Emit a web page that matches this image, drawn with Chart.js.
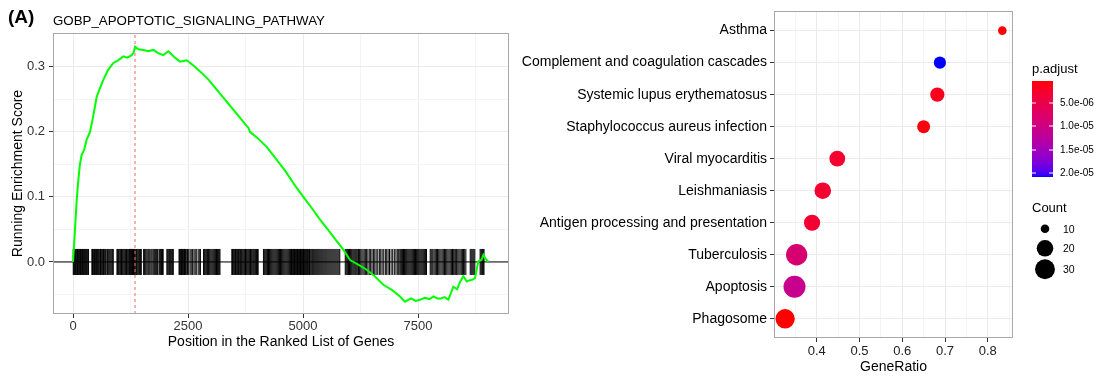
<!DOCTYPE html>
<html><head><meta charset="utf-8">
<script src="https://cdn.jsdelivr.net/npm/chart.js@4.4.0/dist/chart.umd.min.js"></script>
<style>
body{margin:0;background:#fff;font-family:"Liberation Sans",Arial,sans-serif;}
#wrap{position:relative;width:1102px;height:378px;overflow:hidden;background:#fff;}
.t{position:absolute;white-space:nowrap;color:#000;line-height:1;}
canvas{position:absolute;}
</style></head><body>
<div id="wrap">
<canvas id="c1" width="515" height="378" style="left:0;top:0"></canvas>
<canvas id="c2" width="530" height="378" style="left:500px;top:0"></canvas>
<canvas id="cbar" width="21" height="96" style="left:1032px;top:81px"></canvas>
</div>
<script>
// ---------- Left panel data (GSEA running score) ----------
const gseaTitle = 'GOBP_APOPTOTIC_SIGNALING_PATHWAY';
const esX = [0, 43, 80, 116, 150, 189, 240, 297, 370, 441, 515, 590, 659, 760, 877, 980, 1094, 1180, 1275, 1320, 1348, 1420, 1529, 1640, 1746, 1850, 1964, 2072, 2200, 2326, 2471, 2600, 2761, 2950, 3124, 3300, 3486, 3650, 3812, 3848, 4020, 4210, 4430, 4645, 4820, 5007, 5190, 5370, 5550, 5732, 5877, 6022, 6200, 6384, 6560, 6746, 6930, 7109, 7217, 7350, 7450, 7543, 7650, 7750, 7833, 7920, 8000, 8080, 8159, 8268, 8350, 8420, 8485, 8560, 8630, 8690, 8739, 8811, 8880, 8920, 8960, 9029];
const esY = [0, 0.05, 0.095, 0.126, 0.15, 0.165, 0.172, 0.188, 0.2, 0.225, 0.254, 0.268, 0.28, 0.295, 0.306, 0.31, 0.316, 0.314, 0.318, 0.322, 0.331, 0.327, 0.326, 0.324, 0.326, 0.321, 0.318, 0.324, 0.315, 0.308, 0.31, 0.303, 0.293, 0.28, 0.265, 0.25, 0.234, 0.22, 0.206, 0.2, 0.19, 0.177, 0.157, 0.137, 0.118, 0.1, 0.083, 0.065, 0.049, 0.032, 0.019, 0.003, -0.004, -0.012, -0.022, -0.035, -0.043, -0.053, -0.061, -0.056, -0.06, -0.058, -0.055, -0.057, -0.053, -0.056, -0.056, -0.054, -0.058, -0.038, -0.042, -0.03, -0.022, -0.03, -0.028, -0.027, -0.025, 0.001, 0.003, 0.011, 0.006, 0.0];
const hitPositions = [5,18,30,44,57,70,84,97,110,124,137,150,164,178,191,205,218,232,246,260,275,290,305,320,338,
 410,424,438,452,466,480,494,508,522,536,550,566,582,598,614,630,646,662,678,694,710,
 735,752,775,798,820,842,862,875,
 955,970,985,1000,1018,1036,1054,1072,1090,1108,1126,1144,1162,1180,1198,1214,1230,1244,1256,1268,1280,1292,1304,1316,1328,1340,
 1362,1378,1395,1412,1430,1448,1466,1485,
 1535,1552,1570,1590,1612,1635,1655,1675,1698,1720,1745,1768,1790,1812,1835,
 1868,1885,1905,1925,1945,1960,
 2040,2058,2080,2100,2122,2145,2165,2180,
 2305,2318,2331,2344,2357,2370,2383,2396,2410,2423,2436,2449,2462,
 2490,2515,2545,2570,2600,2630,2655,2680,
 2720,2745,2770,
 2838,2855,2872,2890,2908,2926,2944,2962,2980,3000,3020,3040,3060,3080,3100,3120,3140,3160,3180,3195,
 3452,3468,3484,3500,3516,3532,3548,3564,3580,3596,3612,3628,3644,3660,3678,3696,3714,3732,3750,3768,3786,3804,3822,3840,3858,3876,3894,3912,3930,3950,3970,3990,4010,4025,
 4140,4158,4176,4194,4212,4230,4250,4270,4290,4310,4330,4350,4370,4390,4410,4430,4450,4470,4490,4510,4530,4550,4570,4590,4610,4630,4650,4670,4690,4710,
 4725,4738,4751,4764,4777,4790,4803,4816,4829,4842,4855,4868,4881,4894,4907,4920,4933,4946,4959,4972,4985,4998,5011,5024,5037,5050,5065,5080,5095,5110,5125,5140,5152,
 5170,5190,5210,5232,5254,5276,5298,5320,5342,5364,5386,5408,5430,5452,5474,5496,5518,5540,5562,5584,5606,5628,5650,5672,5694,5716,5738,5760,5782,5800,
 5918,5936,5954,5972,5990,6010,6030,6050,6070,6092,6114,6136,6158,6180,6205,6230,6255,6280,6305,6330,6355,6378,
 6410,6440,6470,6500,6530,6560,6590,6625,6660,6690,6720,6755,6790,6820,6850,6880,6915,6950,6985,7020,7050,7080,7105,
 7125,7145,7165,7185,7205,7225,7245,7265,7285,7305,7325,7345,7365,7385,7405,7425,7445,7465,7485,7505,7525,7545,7565,7585,7605,7625,7645,7665,7685,
 7765,7785,7805,7825,7850,7875,7900,7925,7950,7975,8000,8025,8050,8075,8100,8125,8150,8175,8200,8225,8250,8275,8300,8320,8340,
 8365,8390,8415,8440,8465,8490,8515,8540,
 8635,8655,8675,8695,8715,8735,
 8850,8868,8886,8904,8920,8935];
const peakPosition = 1348;
const xMajorTicks = [0, 2500, 5000, 7500];
const xMinorTicks = [1250, 3750, 6250, 8750];
const yMajorTicks = [0, 0.1, 0.2, 0.3];
const yMinorTicks = [-0.05, 0.05, 0.15, 0.25];

// ---------- Right panel data (dot plot) ----------
const categories = ['Asthma', 'Complement and coagulation cascades', 'Systemic lupus erythematosus', 'Staphylococcus aureus infection', 'Viral myocarditis', 'Leishmaniasis', 'Antigen processing and presentation', 'Tuberculosis', 'Apoptosis', 'Phagosome'];
const geneRatio = [0.834, 0.688, 0.682, 0.650, 0.448, 0.414, 0.389, 0.353, 0.348, 0.326];
const counts = [10, 12, 15, 13, 18, 20, 19, 35, 38, 28];
const pAdjust = [5.0e-7, 2.08e-5, 1.6e-6, 8.0e-7, 2.8e-6, 2.9e-6, 3.0e-6, 8.5e-6, 1.1e-5, 3.9e-7];
const ratioMajorTicks = [0.4, 0.5, 0.6, 0.7, 0.8];
const ratioMinorTicks = [0.35, 0.45, 0.55, 0.65, 0.75, 0.85];
const pLegendTicks = [5e-6, 1e-5, 1.5e-5, 2e-5];
const pLegendLabels = ['5.0e-06', '1.0e-05', '1.5e-05', '2.0e-05'];
const countLegend = [10, 20, 30];

// ---------- helpers ----------
const FONT = "'Liberation Sans', Arial, sans-serif";
Chart.defaults.font.family = FONT;
const wrap = document.getElementById('wrap');
function txt(s, x, cy, size, opt) {
  opt = opt || {};
  const d = document.createElement('div');
  d.className = 't';
  d.textContent = s;
  d.style.fontSize = size + 'px';
  if (opt.bold) d.style.fontWeight = 'bold';
  if (opt.color) d.style.color = opt.color;
  d.style.left = x + 'px';
  d.style.top = (cy - (opt.k || 0.4885) * size) + 'px';
  wrap.appendChild(d);
}
function lin(c){c/=255;return c<=0.04045?c/12.92:Math.pow((c+0.055)/1.055,2.4);}
function unlin(c){c=c<=0.0031308?12.92*c:1.055*Math.pow(c,1/2.4)-0.055;return Math.max(0,Math.min(255,Math.round(c*255)));}
const WX=0.95047,WY=1,WZ=1.08883;
function fL(t){return t>0.008856?Math.cbrt(t):7.787*t+16/116;}
function fLi(t){return t>0.206893?t*t*t:(t-16/116)/7.787;}
function toLab(r,g,b){r=lin(r);g=lin(g);b=lin(b);
  const X=(0.4124*r+0.3576*g+0.1805*b)/WX,Y=(0.2126*r+0.7152*g+0.0722*b)/WY,Z=(0.0193*r+0.1192*g+0.9505*b)/WZ;
  const fx=fL(X),fy=fL(Y),fz=fL(Z);return [116*fy-16,500*(fx-fy),200*(fy-fz)];}
function fromLab(L,a,b){const fy=(L+16)/116,fx=fy+a/500,fz=fy-b/200;
  const X=fLi(fx)*WX,Y=fLi(fy)*WY,Z=fLi(fz)*WZ;
  const r=3.2406*X-1.5372*Y-0.4986*Z,g=-0.9689*X+1.8758*Y+0.0415*Z,bb=0.0557*X-0.2040*Y+1.0570*Z;
  return 'rgb('+unlin(r)+','+unlin(g)+','+unlin(bb)+')';}
const LOW = toLab(255,0,0), HIGH = toLab(0,0,255);
const pMin = Math.min(...pAdjust), pMax = Math.max(...pAdjust);
function colorAt(t){t=Math.max(0,Math.min(1,t));return fromLab(LOW[0]+(HIGH[0]-LOW[0])*t,LOW[1]+(HIGH[1]-LOW[1])*t,LOW[2]+(HIGH[2]-LOW[2])*t);}
function colorOf(p){return colorAt((p-pMin)/(pMax-pMin));}
const cMin = Math.min(...counts), cMax = Math.max(...counts);
function radiusOf(c){return 4.3 + 6.7*Math.sqrt(Math.max(0,c-cMin)/(cMax-cMin));}

const panelBorder = {id:'panelBorder', afterDatasetsDraw(chart){
  const {ctx, chartArea:a} = chart; ctx.save(); ctx.strokeStyle='#A8A8A8'; ctx.lineWidth=1;
  ctx.strokeRect(Math.round(a.left)+0.5, Math.round(a.top)+0.5, Math.round(a.right-a.left)-1, Math.round(a.bottom-a.top)-1);
  ctx.restore();}};

// ---------- Left chart ----------
const xMin = -435, xMax = 9478, yMin = -0.08, yMax = 0.352;
const rug = [];
hitPositions.forEach(p => { rug.push({x:p,y:-0.02}); rug.push({x:p,y:0.02}); rug.push({x:p,y:null}); });
const isMaj = (arr, v) => arr.some(m => Math.abs(m - v) < 1e-9);

new Chart(document.getElementById('c1'), {
  type: 'line',
  data: { datasets: [
    {data: esX.map((x,i)=>({x, y: esY[i]})), borderColor:'#00FF00', borderWidth:2, pointRadius:0, tension:0, order:0},
    {data: [{x:peakPosition,y:yMin},{x:peakPosition,y:yMax}], borderColor:'#F06A6A', borderWidth:1, borderDash:[3,3], pointRadius:0, order:1},
    {data: [{x:xMin,y:0},{x:xMax,y:0}], borderColor:'#000', borderWidth:1, pointRadius:0, order:2},
    {data: rug, borderColor:'#000', borderWidth:1, pointRadius:0, spanGaps:false, order:3}
  ]},
  options: {
    responsive:false, animation:false, events:[],
    plugins:{legend:{display:false}, tooltip:{enabled:false}},
    layout:{padding:{left:0, top:33, right:6, bottom:0}},
    scales:{
      x:{type:'linear', min:xMin, max:xMax,
        afterFit(s){s.height=64;},
        afterBuildTicks(s){s.ticks=xMajorTicks.concat(xMinorTicks).sort((a,b)=>a-b).map(v=>({value:v}));},
        ticks:{callback:(v)=> isMaj(xMajorTicks,v)? String(v):'', font:{size:13}, color:'#333', padding:1, maxRotation:0, autoSkip:false},
        grid:{color:(c)=> isMaj(xMajorTicks,c.tick.value)?'#EBEBEB':'#F4F4F4', tickColor:(c)=> isMaj(xMajorTicks,c.tick.value)?'#333':'rgba(0,0,0,0)', tickLength:4, lineWidth:1},
        border:{display:false},
        title:{display:true, text:'Position in the Ranked List of Genes', font:{size:14}, color:'#000', padding:{top:0,bottom:27}}
      },
      y:{type:'linear', min:yMin, max:yMax,
        afterFit(s){s.width=53;},
        afterBuildTicks(s){s.ticks=yMajorTicks.concat(yMinorTicks).sort((a,b)=>a-b).map(v=>({value:v}));},
        ticks:{callback:(v)=> isMaj(yMajorTicks,v)? v.toFixed(1):'', font:{size:13}, color:'#333', padding:4, autoSkip:false},
        grid:{color:(c)=> isMaj(yMajorTicks,c.tick.value)?'#EBEBEB':'#F4F4F4', tickColor:(c)=> isMaj(yMajorTicks,c.tick.value)?'#333':'rgba(0,0,0,0)', tickLength:4, lineWidth:1},
        border:{display:false},
        title:{display:true, text:'Running Enrichment Score', font:{size:14}, color:'#000', padding:{top:10,bottom:0}}
      }
    }
  },
  plugins:[panelBorder]
});

// ---------- Right chart ----------
new Chart(document.getElementById('c2'), {
  type: 'scatter',
  data: { datasets: [{
    data: geneRatio.map((g,i)=>({x:g, y:i})),
    pointRadius: counts.map(radiusOf),
    pointHoverRadius: counts.map(radiusOf),
    pointBackgroundColor: pAdjust.map(colorOf),
    pointBorderWidth: 0
  }]},
  options: {
    responsive:false, animation:false, events:[],
    plugins:{legend:{display:false}, tooltip:{enabled:false}},
    layout:{padding:{left:0, top:5, right:17, bottom:0}},
    scales:{
      x:{type:'linear', min:0.30, max:0.859,
        afterFit(s){s.height=40;},
        afterBuildTicks(s){s.ticks=ratioMajorTicks.concat(ratioMinorTicks).sort((a,b)=>a-b).map(v=>({value:v}));},
        ticks:{callback:(v)=> isMaj(ratioMajorTicks,v)? v.toFixed(1):'', font:{size:13}, color:'#222', padding:2, maxRotation:0, autoSkip:false},
        grid:{color:(c)=> isMaj(ratioMajorTicks,c.tick.value)?'#EBEBEB':'#F4F4F4', tickColor:(c)=> isMaj(ratioMajorTicks,c.tick.value)?'#333':'rgba(0,0,0,0)', tickLength:4, lineWidth:1},
        border:{display:false},
        title:{display:true, text:'GeneRatio', font:{size:14}, color:'#000', padding:{top:0,bottom:2}}
      },
      y:{type:'linear', min:-0.6, max:9.6, reverse:true,
        afterFit(s){s.width=274;},
        afterBuildTicks(s){s.ticks=categories.map((_,i)=>({value:i}));},
        ticks:{callback:(v)=> categories[v], font:{size:14}, color:'#000', padding:3, autoSkip:false},
        grid:{color:'#EBEBEB', tickColor:'#333', tickLength:4, lineWidth:1},
        border:{display:false}
      }
    }
  },
  plugins:[panelBorder]
});

// ---------- Legends ----------
const bar = document.getElementById('cbar').getContext('2d');
const barTop = 81, barH = 96;
for (let y = 0; y < barH; y++) { bar.fillStyle = colorAt((y+0.5)/barH); bar.fillRect(0, y, 21, 1); }
txt('p.adjust', 1032, 70, 13, {k:0.587});
pLegendTicks.forEach((v,i) => {
  const cy = barTop + (v - pMin)/(pMax - pMin)*barH;
  bar.fillStyle = '#fff';
  bar.fillRect(0, Math.round(cy-barTop)-0.5, 4, 1);
  bar.fillRect(17, Math.round(cy-barTop)-0.5, 4, 1);
  txt(pLegendLabels[i], 1060, cy, 10);
});
txt('Count', 1032, 207, 13);
const dotY = [228.7, 248.3, 269.3];
const dc = document.createElement('canvas');
dc.width = 40; dc.height = 70; dc.style.left = '1025px'; dc.style.top = '215px';
wrap.appendChild(dc);
const dctx = dc.getContext('2d');
countLegend.forEach((c,i) => {
  dctx.fillStyle = '#000'; dctx.beginPath();
  dctx.arc(20, dotY[i]-215, radiusOf(c), 0, Math.PI*2); dctx.fill();
  txt(String(c), 1063, dotY[i], 10.5);
});

// ---------- Titles ----------
txt('(A)', 8, 17.5, 19, {bold:true, k:0.55});
txt(gseaTitle, 53, 20.5, 13.3);
</script>
</body></html>
